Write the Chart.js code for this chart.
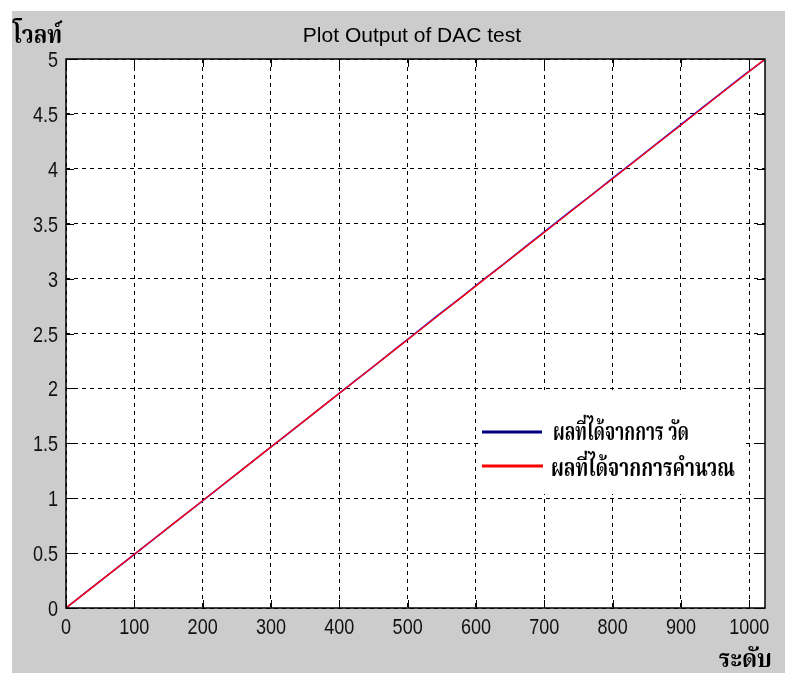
<!DOCTYPE html>
<html>
<head>
<meta charset="utf-8">
<script src="https://cdn.jsdelivr.net/npm/chart.js@4.4.1/dist/chart.umd.min.js"></script>
<style>
  body { margin: 0; background: #fff; }
  canvas { display: block; }
</style>
</head>
<body>
<canvas id="dacChart" width="785" height="673"></canvas>
<script>
// DAC input level (0..1023)
const levels = [0, 32, 64, 96, 128, 160, 192, 224, 256, 288, 320, 352, 384, 416, 448, 480,
  512, 544, 576, 608, 640, 672, 704, 736, 768, 800, 832, 864, 896, 928, 960, 992, 1023];
// measured output (volt)
const measured = [0, 0.158, 0.313, 0.469, 0.626, 0.782, 0.938, 1.095, 1.251, 1.408, 1.564,
  1.720, 1.877, 2.035, 2.190, 2.348, 2.505, 2.665, 2.818, 2.978, 3.130, 3.290, 3.445, 3.604,
  3.756, 3.915, 4.070, 4.228, 4.383, 4.542, 4.695, 4.853, 4.995];
// calculated output (volt)
const calculated = [0, 0.156, 0.313, 0.469, 0.626, 0.782, 0.938, 1.095, 1.251, 1.408, 1.564,
  1.720, 1.877, 2.033, 2.190, 2.346, 2.502, 2.659, 2.815, 2.972, 3.128, 3.284, 3.441, 3.597,
  3.754, 3.910, 4.067, 4.223, 4.379, 4.536, 4.692, 4.848, 5.000];

const xTicks = [0, 100, 200, 300, 400, 500, 600, 700, 800, 900, 1000];
const xTickLabels = ["0", "100", "200", "300", "400", "500", "600", "700", "800", "900", "1000"];
const yTicks = [0, 0.5, 1, 1.5, 2, 2.5, 3, 3.5, 4, 4.5, 5];
const yTickLabels = ["0", "0.5", "1", "1.5", "2", "2.5", "3", "3.5", "4", "4.5", "5"];
const seriesNames = ["ผลที่ได้จากการ วัด", "ผลที่ได้จากการคำนวณ"];

const tickFont = '22px "Liberation Sans", Arial, sans-serif';
const thaiFont = 'bold 24px "Noto Serif Thai", "Noto Sans Thai", "Loma", "Garuda", "Norasi", sans-serif';

const toPts = (vals) => levels.map((x, i) => ({ x: x, y: vals[i] }));

// draw text squeezed horizontally (the original uses a narrow bitmap font)
function narrowText(c, txt, x, y, sx, align) {
  c.save();
  c.translate(x, y);
  c.scale(sx, 1);
  c.textAlign = align;
  c.fillText(txt, 0, 0);
  c.restore();
}

// figure background, axes frame, inward ticks, titles and legend
const matlabLook = {
  id: "matlabLook",
  beforeDraw(chart) {
    const c = chart.ctx;
    const a = chart.chartArea;
    c.save();
    c.fillStyle = "#fff";
    c.fillRect(0, 0, chart.width, chart.height);
    c.fillStyle = "#cccccc";
    c.fillRect(12, 11, chart.width - 12, chart.height - 11);
    c.fillStyle = "#fff";
    c.fillRect(a.left, a.top, a.right - a.left, a.bottom - a.top);
    c.restore();
  },
  afterDraw(chart) {
    const c = chart.ctx;
    const a = chart.chartArea;
    const xs = chart.scales.x;
    const ys = chart.scales.y;
    c.save();

    // legend box (white, no border)
    c.fillStyle = "#fff";
    c.fillRect(478, 390, 266, 104);
    c.lineWidth = 3;
    c.strokeStyle = "#000080";
    c.beginPath(); c.moveTo(482, 432); c.lineTo(542, 432); c.stroke();
    c.strokeStyle = "#ff0000";
    c.beginPath(); c.moveTo(482, 466); c.lineTo(543, 466); c.stroke();
    c.fillStyle = "#000";
    c.font = thaiFont;
    c.textBaseline = "alphabetic";
    narrowText(c, seriesNames[0], 553, 440, 0.72, "left");
    narrowText(c, seriesNames[1], 551, 476, 0.79, "left");

    // frame
    c.strokeStyle = "#000";
    c.lineWidth = 1.5;
    c.strokeRect(a.left, a.top, a.right - a.left, a.bottom - a.top);

    // inward ticks on all four sides
    c.lineWidth = 1;
    c.beginPath();
    xTicks.forEach(v => {
      const px = Math.round(xs.getPixelForValue(v)) + 0.5;
      c.moveTo(px, a.bottom); c.lineTo(px, a.bottom - 8);
      c.moveTo(px, a.top); c.lineTo(px, a.top + 8);
    });
    yTicks.forEach(v => {
      const py = Math.round(ys.getPixelForValue(v)) + 0.5;
      c.moveTo(a.left, py); c.lineTo(a.left + 8, py);
      c.moveTo(a.right, py); c.lineTo(a.right - 8, py);
    });
    c.stroke();

    // tick labels
    c.fillStyle = "#111";
    c.font = tickFont;
    xTicks.forEach((v, i) => {
      narrowText(c, xTickLabels[i], xs.getPixelForValue(v), 634, 0.82, "center");
    });
    yTicks.forEach((v, i) => {
      narrowText(c, yTickLabels[i], 58, ys.getPixelForValue(v) + 8, 0.82, "right");
    });

    // title and axis labels
    c.fillStyle = "#000";
    c.font = '21px "Liberation Sans", Arial, sans-serif';
    c.textAlign = "center";
    c.fillText("Plot Output of DAC test", 412, 42);
    c.font = thaiFont;
    narrowText(c, "โวลท์", 13, 43, 0.92, "left");
    narrowText(c, "ระดับ", 772, 667, 0.95, "right");
    c.restore();
  }
};

new Chart(document.getElementById("dacChart"), {
  type: "line",
  data: {
    datasets: [
      {
        label: seriesNames[1],
        data: toPts(calculated),
        borderColor: "#ff0000",
        borderWidth: 1.4,
        pointRadius: 0,
        tension: 0,
        order: 0
      },
      {
        label: seriesNames[0],
        data: toPts(measured),
        borderColor: "#2020ff",
        borderWidth: 1.6,
        pointRadius: 0,
        tension: 0,
        order: 1
      }
    ]
  },
  options: {
    responsive: false,
    animation: false,
    events: [],
    layout: { padding: { left: 0, top: 59, right: 20, bottom: 0 } },
    plugins: {
      legend: { display: false },
      title: { display: false },
      tooltip: { enabled: false }
    },
    scales: {
      x: {
        type: "linear",
        min: 0,
        max: 1023,
        afterBuildTicks: (s) => { s.ticks = xTicks.map(v => ({ value: v })); },
        afterFit: (s) => { s.height = 65; },
        grid: { color: "#000", lineWidth: 1, drawTicks: false },
        border: { display: false, dash: [4, 4] },
        ticks: { display: false }
      },
      y: {
        type: "linear",
        min: 0,
        max: 5,
        afterBuildTicks: (s) => { s.ticks = yTicks.map(v => ({ value: v })); },
        afterFit: (s) => { s.width = 66; },
        grid: { color: "#000", lineWidth: 1, drawTicks: false },
        border: { display: false, dash: [4, 4] },
        ticks: { display: false }
      }
    }
  },
  plugins: [matlabLook]
});
</script>
</body>
</html>
